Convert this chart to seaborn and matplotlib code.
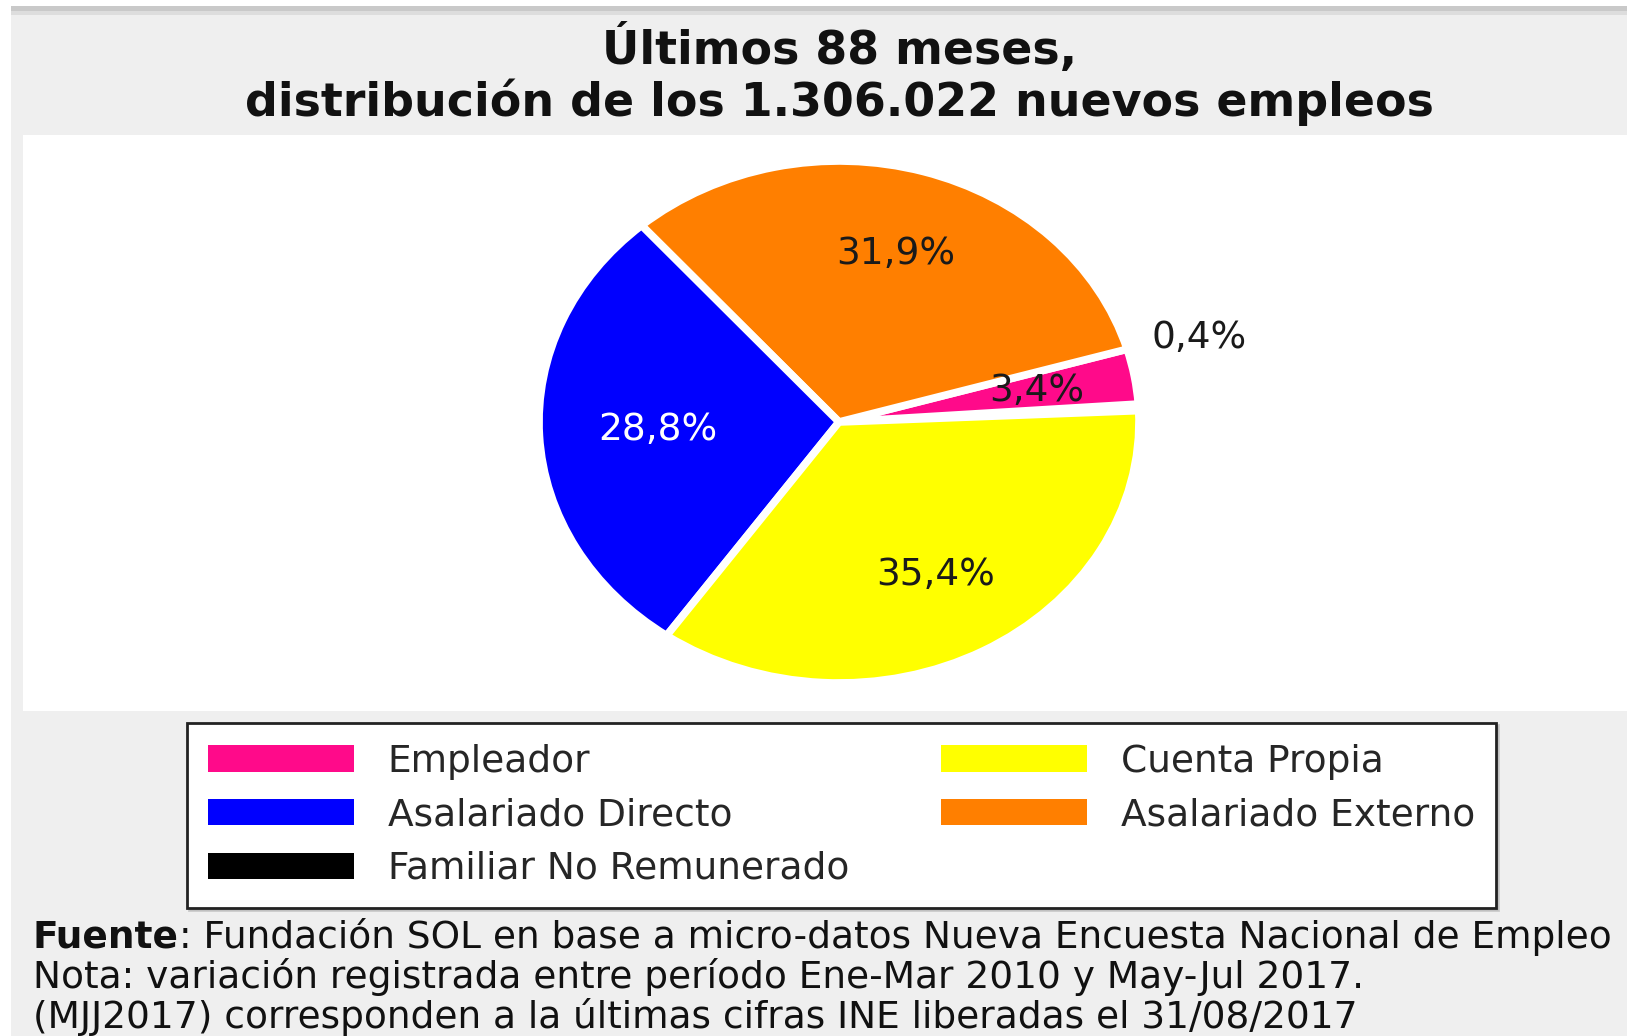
import matplotlib.pyplot as plt
import seaborn as sns
from matplotlib.patches import Rectangle

# data
categories = ["Familiar No Remunerado", "Empleador", "Asalariado Externo",
              "Asalariado Directo", "Cuenta Propia"]
shares = [0.4, 3.4, 31.9, 28.8, 35.4]
colors = ["#000000", "#ff0a8a", "#ff7f00", "#0000ff", "#ffff00"]
legend_order = ["Empleador", "Asalariado Directo", "Familiar No Remunerado",
                "Cuenta Propia", "Asalariado Externo"]

title = "Últimos 88 meses,\ndistribución de los 1.306.022 nuevos empleos"
source_bold = "Fuente"
source_rest = ": Fundación SOL en base a micro-datos Nueva Encuesta Nacional de Empleo"
notes = ["Nota: variación registrada entre período Ene-Mar 2010 y May-Jul 2017.",
         "(MJJ2017) corresponden a la últimas cifras INE liberadas el 31/08/2017"]

W, H = 1627, 1036

sns.set_theme(style="white")
plt.rcParams['font.family'] = ['DejaVu Sans']

fig = plt.figure(figsize=(W / 100, H / 100), dpi=100, facecolor="#efefef")


def box(x, y, w, h, color):
    # rectangle given in pixels from the top-left corner
    fig.add_artist(Rectangle((x / W, 1 - (y + h) / H), w / W, h / H,
                             transform=fig.transFigure, facecolor=color,
                             edgecolor="none", zorder=0))


# page edges and the white panel behind the pie
box(0, 0, 11, H, "white")
box(0, 0, W, 6, "white")
box(11, 6, W, 5, "#c9c9c9")
box(11, 11, W, 4, "#dddddd")
box(23, 135, W, 576, "white")

ax = fig.add_axes([539 / W, 1 - 683 / H, 600 / W, 522 / H])
ax.patch.set_alpha(0)


def pct(p):
    return f"{p:.1f}".replace(".", ",") + "%"


wedges, texts, autotexts = ax.pie(
    shares, colors=colors, startangle=2.5, counterclock=True,
    autopct=pct, pctdistance=0.67,
    wedgeprops=dict(edgecolor="white", linewidth=5.5),
    textprops=dict(fontsize=27, color="#1a1a1a"))
ax.set_aspect("auto")
ax.set_xlim(-1, 1)
ax.set_ylim(-1, 1)

autotexts[0].set_position((1.2, 0.32))
bx, by = autotexts[3].get_position()
autotexts[3].set_position((bx * 0.9, by * 0.9))
autotexts[3].set_color("white")

fig.text(0.516, 1 - 75 / H, title, ha="center", va="center", fontsize=33,
         fontweight="bold", linespacing=1.1, color="#111111")

handles = [wedges[categories.index(c)] for c in legend_order]
leg = fig.legend(handles, legend_order, ncol=2, loc="upper left",
                 bbox_to_anchor=(187 / W, 1 - 723 / H), borderaxespad=0,
                 frameon=True, fancybox=False,
                 edgecolor="#222222", facecolor="white", framealpha=1, fontsize=27,
                 handlelength=3.9, handleheight=0.7, handletextpad=0.9,
                 columnspacing=2.45, labelspacing=0.47, borderpad=0.55,
                 shadow={"ox": 1.5, "oy": -1.5, "color": "0.65"})
leg.get_frame().set_linewidth(2)
for h in leg.legend_handles:
    h.set_edgecolor("none")

fig.canvas.draw()
t = fig.text(33 / W, 1 - 937 / H, source_bold, fontsize=27, fontweight="bold",
             va="center", color="#111111")
bb = t.get_window_extent(fig.canvas.get_renderer())
fig.text(bb.x1 / W, 1 - 937 / H, source_rest, fontsize=27, va="center", color="#111111")
for i, line in enumerate(notes):
    fig.text(33 / W, 1 - (977 + 40 * i) / H, line, fontsize=27, va="center", color="#111111")

fig.savefig("out.png", dpi=100, facecolor=fig.get_facecolor())
